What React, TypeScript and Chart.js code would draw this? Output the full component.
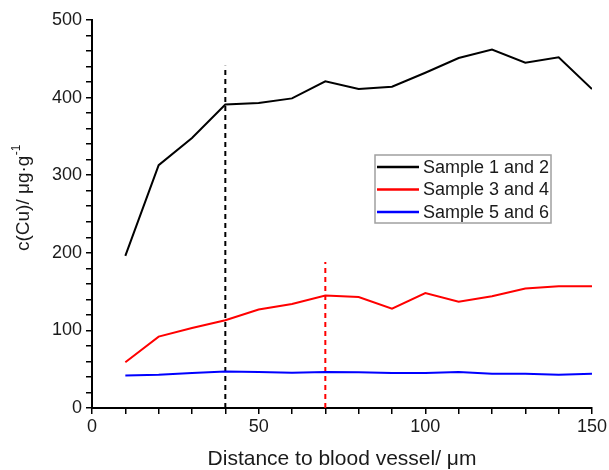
import React, { useEffect, useRef } from "react";
import { Chart, registerables } from "chart.js";
Chart.register(...registerables);

const distances = [10, 20, 30, 40, 50, 60, 70, 80, 90, 100, 110, 120, 130, 140, 150];
const sample12 = [196, 313, 348, 391, 393, 399, 421, 411, 414, 432, 451, 462, 445, 452, 411];
const sample34 = [59, 92, 103, 113, 127, 134, 145, 143, 128, 148, 137, 144, 154, 157, 157];
const sample56 = [42, 43, 45, 47, 46.5, 45.5, 46.5, 46, 45, 45, 46.5, 44, 44, 43, 44];
const seriesLabels = ["Sample 1 and 2", "Sample 3 and 4", "Sample 5 and 6"];
const seriesColors = ["#000000", "#ff0000", "#0000ff"];
const markerX = [40, 70];
const markerTop = [441, 188];
const markerColors = ["#000000", "#ff0000"];
const xTitle = "Distance to blood vessel/ \u03bcm";
const yTitleMain = "c(Cu)/ \u03bcg\u00b7g";
const yTitleSup = "-1";

const FONT = "'Liberation Sans', Arial, sans-serif";

const legendPlugin = {
  id: "boxLegend",
  afterDatasetsDraw(chart: any) {
    const ctx = chart.ctx;
    ctx.save();
    const left = 375, top = 155, w = 176, h = 68;
    ctx.fillStyle = "#ffffff";
    ctx.fillRect(left, top, w, h);
    ctx.strokeStyle = "#a0a0a0";
    ctx.lineWidth = 1.5;
    ctx.strokeRect(left, top, w, h);
    ctx.font = "18px " + FONT;
    ctx.textBaseline = "middle";
    ctx.textAlign = "left";
    seriesLabels.forEach((lab, i) => {
      const y = top + 12 + i * 22.5;
      ctx.strokeStyle = seriesColors[i];
      ctx.lineWidth = 2.5;
      ctx.beginPath();
      ctx.moveTo(left + 2, y);
      ctx.lineTo(left + 44, y);
      ctx.stroke();
      ctx.fillStyle = "#1a1a1a";
      ctx.fillText(lab, left + 48, y + 1);
    });
    ctx.restore();
  },
  afterDraw(chart: any) {
    // y axis title with superscript
    const ctx = chart.ctx;
    ctx.save();
    ctx.translate(29, 198);
    ctx.rotate(-Math.PI / 2);
    ctx.fillStyle = "#1a1a1a";
    ctx.textBaseline = "alphabetic";
    ctx.font = "19px " + FONT;
    const wMain = ctx.measureText(yTitleMain).width;
    ctx.font = "12px " + FONT;
    const wSup = ctx.measureText(yTitleSup).width;
    const start = -(wMain + wSup) / 2;
    ctx.font = "19px " + FONT;
    ctx.textAlign = "left";
    ctx.fillText(yTitleMain, start, 0);
    ctx.font = "12px " + FONT;
    ctx.fillText(yTitleSup, start + wMain + 0.5, -9);
    ctx.restore();
  },
};

export default function App() {
  const ref = useRef<HTMLCanvasElement | null>(null);
  useEffect(() => {
    document.body.style.margin = "0";
    const series = [sample12, sample34, sample56];
    const datasets: any[] = series.map((vals, i) => ({
      label: seriesLabels[i],
      data: distances.map((d, j) => ({ x: d, y: vals[j] })),
      borderColor: seriesColors[i],
      backgroundColor: seriesColors[i],
      borderWidth: 2,
      pointRadius: 0,
      tension: 0,
      fill: false,
    }));
    markerX.forEach((mx, i) => {
      datasets.push({
        label: "marker" + i,
        data: [{ x: mx, y: 0 }, { x: mx, y: markerTop[i] }],
        borderColor: markerColors[i],
        borderWidth: 2,
        borderDash: [5, 4],
        pointRadius: 0,
        fill: false,
      });
    });
    const chart = new Chart(ref.current!, {
      type: "line",
      data: { datasets },
      plugins: [legendPlugin],
      options: {
        responsive: false,
        animation: false,
        layout: { padding: { top: 20, right: 15, left: 0, bottom: 0 } },
        plugins: { legend: { display: false }, tooltip: { enabled: false } },
        scales: {
          x: {
            type: "linear",
            min: 0,
            max: 150,
            border: { color: "#000", width: 2 },
            grid: { drawOnChartArea: false, drawTicks: true, tickLength: 6, color: "#000", lineWidth: 1.5 },
            ticks: {
              stepSize: 10,
              autoSkip: false,
              maxRotation: 0,
              padding: 2,
              color: "#1a1a1a",
              font: { family: FONT, size: 18 },
              callback: (v: any) => (Number(v) % 50 === 0 ? String(v) : ""),
            },
            title: {
              display: true,
              text: xTitle,
              color: "#1a1a1a",
              font: { family: FONT, size: 21 },
              padding: { top: 0, bottom: -2 },
            },
            afterFit: (s: any) => {
              s.height = 62;
            },
          },
          y: {
            type: "linear",
            min: 0,
            max: 500,
            border: { color: "#000", width: 2 },
            grid: { drawOnChartArea: false, drawTicks: true, tickLength: 6, color: "#000", lineWidth: 1.5 },
            ticks: {
              stepSize: 20,
              autoSkip: false,
              padding: 4,
              color: "#1a1a1a",
              font: { family: FONT, size: 18 },
              callback: (v: any) => (Number(v) % 100 === 0 ? String(v) : ""),
            },
            title: { display: false },
            afterFit: (s: any) => {
              s.width = 92;
            },
          },
        },
      },
    });
    return () => chart.destroy();
  }, []);
  return (
    <div style={{ width: 609, height: 470, background: "#fff" }}>
      <canvas ref={ref} width={609} height={470} />
    </div>
  );
}
